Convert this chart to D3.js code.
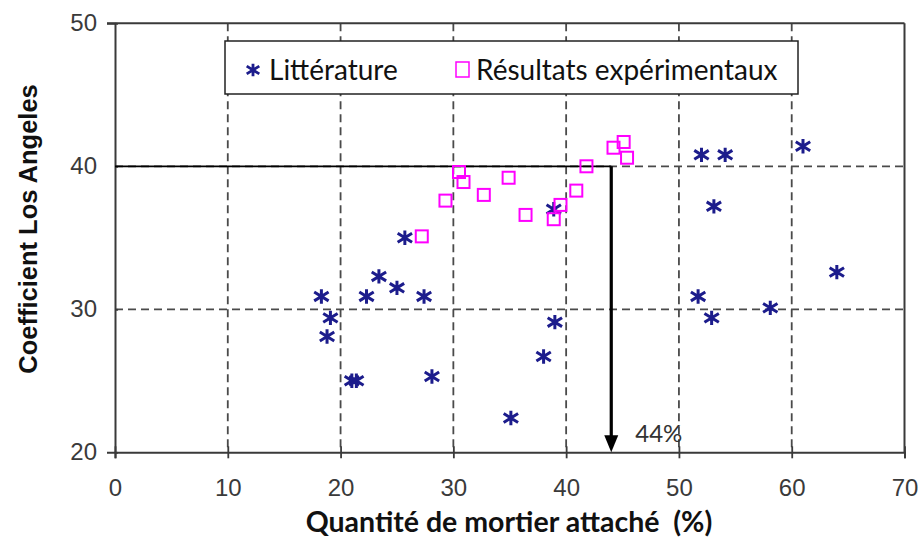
<!DOCTYPE html>
<html>
<head>
<meta charset="utf-8">
<script src="https://cdn.jsdelivr.net/npm/d3@7"></script>
<style>
  html, body { margin: 0; padding: 0; background: #fff; }
  svg { display: block; }
  .tick text { font-family: 'Liberation Sans', Arial, sans-serif; font-size: 24px; fill: #3a3a3a; }
</style>
</head>
<body>
<svg id="chart" width="920" height="540"></svg>
<script>
// Literature values: attached mortar (%) and Los Angeles coefficient
const litX = [25.7, 18.3, 19.1, 18.8, 22.3, 23.4, 25.0, 27.4, 21.0, 21.4, 28.1, 35.1, 38.0, 39.0, 38.9,
              52.0, 54.1, 61.0, 53.1, 64.0, 51.7, 52.9, 58.1];
const litY = [35.0, 30.9, 29.4, 28.1, 30.9, 32.3, 31.5, 30.9, 25.0, 25.0, 25.3, 22.4, 26.7, 29.1, 37.0,
              40.8, 40.8, 41.4, 37.2, 32.6, 30.9, 29.4, 30.1];

// Experimental results
const expX = [27.2, 29.3, 30.5, 30.9, 32.7, 34.9, 36.4, 38.9, 39.5, 40.9, 41.8, 44.2, 45.1, 45.4];
const expY = [35.1, 37.6, 39.6, 38.9, 38.0, 39.2, 36.6, 36.3, 37.3, 38.3, 40.0, 41.3, 41.7, 40.6];

// Axis ticks
const xTicks = [0, 10, 20, 30, 40, 50, 60, 70];
const yTicks = [20, 30, 40, 50];

// Threshold annotation: LA = 40 reached at 44 % attached mortar
const thresholdLA = 40;
const thresholdMortar = 44;
const thresholdLabel = "44%";

const legendNames = ["Littérature", "Résultats expérimentaux"];
const xTitle = "Quantité de mortier attaché  (%)";
const yTitle = "Coefficient Los Angeles";

const svg = d3.select("#chart");
const x = d3.scaleLinear().domain([0, 70]).range([115, 904.5]);
const y = d3.scaleLinear().domain([20, 50]).range([452.3, 23.3]);

const axisColor = "#3a3a3a";
const gridColor = "#4a4a4a";
const navy = "#1c1c8c";
const magenta = "#ff00ff";

// dashed grid
svg.append("g").selectAll("line").data(xTicks.slice(1, -1)).join("line")
  .attr("x1", d => x(d)).attr("x2", d => x(d))
  .attr("y1", y(50)).attr("y2", y(20))
  .attr("stroke", gridColor).attr("stroke-width", 1.8).attr("stroke-dasharray", "8,5");
svg.append("g").selectAll("line").data(yTicks.slice(1, -1)).join("line")
  .attr("x1", x(0)).attr("x2", x(70))
  .attr("y1", d => y(d)).attr("y2", d => y(d))
  .attr("stroke", gridColor).attr("stroke-width", 1.8).attr("stroke-dasharray", "8,5");

// axes
const yAxis = svg.append("g").attr("transform", `translate(${x(0)},0)`)
  .call(d3.axisLeft(y).tickValues(yTicks).tickSize(8).tickPadding(10).tickFormat(d3.format("d")));
const xAxis = svg.append("g").attr("transform", `translate(0,${y(20)})`)
  .call(d3.axisBottom(x).tickValues(xTicks).tickSize(6).tickPadding(21).tickFormat(d3.format("d")));
xAxis.selectAll(".tick line").attr("y1", -6);
yAxis.selectAll(".tick line").attr("x2", 3);
[xAxis, yAxis].forEach(g => {
  g.attr("font-size", null).attr("font-family", null);
  g.select(".domain").attr("stroke", axisColor).attr("stroke-width", 2);
  g.selectAll(".tick line").attr("stroke", axisColor).attr("stroke-width", 1.8);
  g.selectAll(".tick text").attr("fill", "#3a3a3a").attr("font-size", 24);
});

// top and right frame
svg.append("line").attr("x1", x(0) - 8).attr("x2", x(70)).attr("y1", y(50)).attr("y2", y(50))
  .attr("stroke", axisColor).attr("stroke-width", 2);
svg.append("line").attr("x1", x(70)).attr("x2", x(70)).attr("y1", y(50)).attr("y2", y(20))
  .attr("stroke", axisColor).attr("stroke-width", 2);

// threshold line and arrow
svg.append("line").attr("x1", x(0)).attr("x2", x(thresholdMortar))
  .attr("y1", y(thresholdLA)).attr("y2", y(thresholdLA))
  .attr("stroke", "#000").attr("stroke-width", 1.8);
svg.append("line").attr("x1", x(thresholdMortar)).attr("x2", x(thresholdMortar))
  .attr("y1", y(thresholdLA)).attr("y2", y(20) - 14)
  .attr("stroke", "#000").attr("stroke-width", 3.2);
svg.append("path")
  .attr("d", `M${x(thresholdMortar) - 7},${y(20) - 17} L${x(thresholdMortar) + 7},${y(20) - 17} L${x(thresholdMortar)},${y(20)} Z`)
  .attr("fill", "#000");
svg.append("text").attr("x", x(thresholdMortar) + 24).attr("y", y(20) - 10)
  .attr("fill", "#333").style("font-family", "Lato, 'Open Sans', sans-serif").style("font-size", "24px")
  .text(thresholdLabel);

// markers
function starPath(s) {
  return `M0,${-s}L0,${s}M${-s},${-s * 0.62}L${s},${s * 0.62}M${-s},${s * 0.62}L${s},${-s * 0.62}`;
}
svg.append("g").selectAll("path").data(d3.zip(litX, litY)).join("path")
  .attr("transform", d => `translate(${x(d[0])},${y(d[1])})`)
  .attr("d", starPath(7.2))
  .attr("stroke", navy).attr("stroke-width", 3).attr("fill", "none");
svg.append("g").selectAll("rect").data(d3.zip(expX, expY)).join("rect")
  .attr("x", d => x(d[0]) - 6).attr("y", d => y(d[1]) - 6)
  .attr("width", 12).attr("height", 12)
  .attr("fill", "none").attr("stroke", magenta).attr("stroke-width", 2);

// legend
const lg = svg.append("g");
lg.append("rect").attr("x", 225).attr("y", 41).attr("width", 573).attr("height", 53)
  .attr("fill", "#fff").attr("stroke", "#222").attr("stroke-width", 1.5);
lg.append("path").attr("transform", "translate(253,70)").attr("d", starPath(6.3))
  .attr("stroke", navy).attr("stroke-width", 2.8).attr("fill", "none");
lg.append("text").attr("x", 269).attr("y", 80).text(legendNames[0]);
lg.append("rect").attr("x", 456).attr("y", 62).attr("width", 13).attr("height", 15)
  .attr("fill", "none").attr("stroke", magenta).attr("stroke-width", 1.5);
lg.append("text").attr("x", 476).attr("y", 80).text(legendNames[1]);
lg.selectAll("text").attr("fill", "#111")
  .style("font-family", "Lato, 'Open Sans', sans-serif").style("font-size", "28px");

// axis titles
svg.append("text").attr("x", 509).attr("y", 532).attr("text-anchor", "middle")
  .attr("fill", "#111").style("font-family", "Lato, sans-serif").style("font-weight", "bold")
  .style("font-size", "28.5px").style("white-space", "pre").text(xTitle);
svg.append("text").attr("transform", "translate(37,229) rotate(-90)").attr("text-anchor", "middle")
  .attr("fill", "#111").style("font-family", "'Liberation Sans', Arial, sans-serif").style("font-weight", "bold")
  .style("font-size", "25.5px").text(yTitle);
</script>
</body>
</html>
